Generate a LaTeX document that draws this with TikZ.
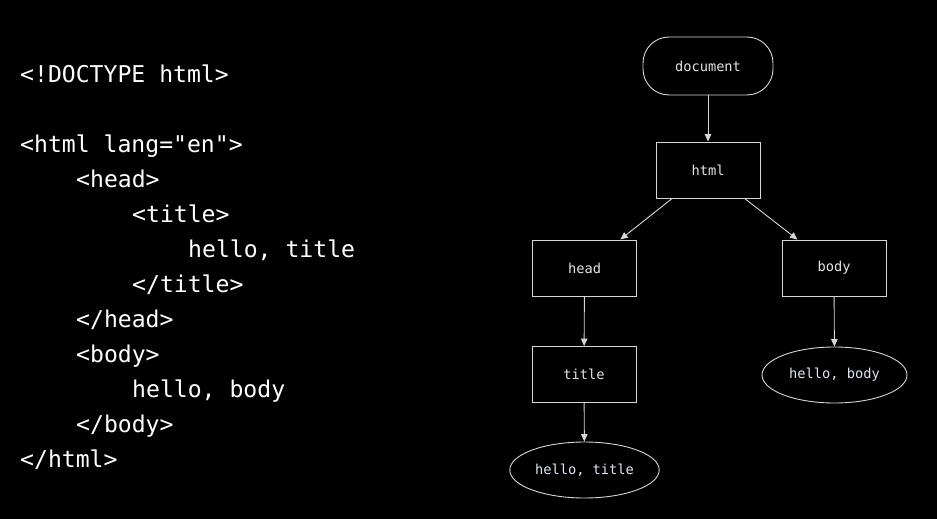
\documentclass[tikz,border=0pt]{standalone}
\usepackage{fontspec}
\setmonofont{DejaVu Sans Mono}
\usetikzlibrary{arrows.meta,shapes.geometric}
\definecolor{edgegray}{RGB}{215,215,215}
\definecolor{labelgray}{RGB}{228,228,228}
\definecolor{leaftext}{RGB}{222,232,242}
\begin{document}
\begin{tikzpicture}[x=1pt,y=-1pt,
  codeline/.style={anchor=base west,inner sep=0pt,text=white,
    font=\fontsize{23.1}{28}\selectfont\ttfamily},
  treenode/.style={draw=edgegray,line width=0.9pt,text=labelgray,
    font=\fontsize{13.7}{16}\selectfont\ttfamily},
  tagbox/.style={treenode,rectangle,minimum width=104pt,minimum height=56pt},
  leaf/.style={treenode,ellipse,minimum width=145pt,minimum height=56pt,text=leaftext},
  link/.style={draw=edgegray,line width=0.9pt,-{Triangle[length=7.5pt,width=6.5pt]}}]
\fill[black] (0,0) rectangle (937,519);
\useasboundingbox (0,0) rectangle (937,519);
% source code
\node[codeline] (l1) at (20,82.5) {<!DOCTYPE html>};
\node[codeline] (l2) at (20,152.5) {<html lang="en">};
\node[codeline] (l3) at (76,187.5) {<head>};
\node[codeline] (l4) at (132,222.5) {<title>};
\node[codeline] (l5) at (188,257.5) {hello, title};
\node[codeline] (l6) at (132,292.5) {</title>};
\node[codeline] (l7) at (76,327.5) {</head>};
\node[codeline] (l8) at (76,362.5) {<body>};
\node[codeline] (l9) at (132,397.5) {hello, body};
\node[codeline] (l10) at (76,432.5) {</body>};
\node[codeline] (l11) at (20,467.5) {</html>};
% dom tree
\node[treenode,rounded corners=26pt,minimum width=130pt,minimum height=58pt] (doc) at (708,66) {document};
\node[tagbox] (html) at (708,170) {html};
\node[tagbox] (head) at (584.5,268) {head};
\node[tagbox] (body) at (834,268) {body};
\node[tagbox] (title) at (584,374.5) {title};
\node[leaf] (titletext) at (584.5,470) {hello, title};
\node[leaf] (bodytext) at (834.5,375) {hello, body};
\draw[link] (doc) -- (html);
\draw[link] (html) -- (head);
\draw[link] (html) -- (body);
\draw[link] (head) -- (title);
\draw[link] (title) -- (titletext);
\draw[link] (body) -- (bodytext);
\end{tikzpicture}
\end{document}
